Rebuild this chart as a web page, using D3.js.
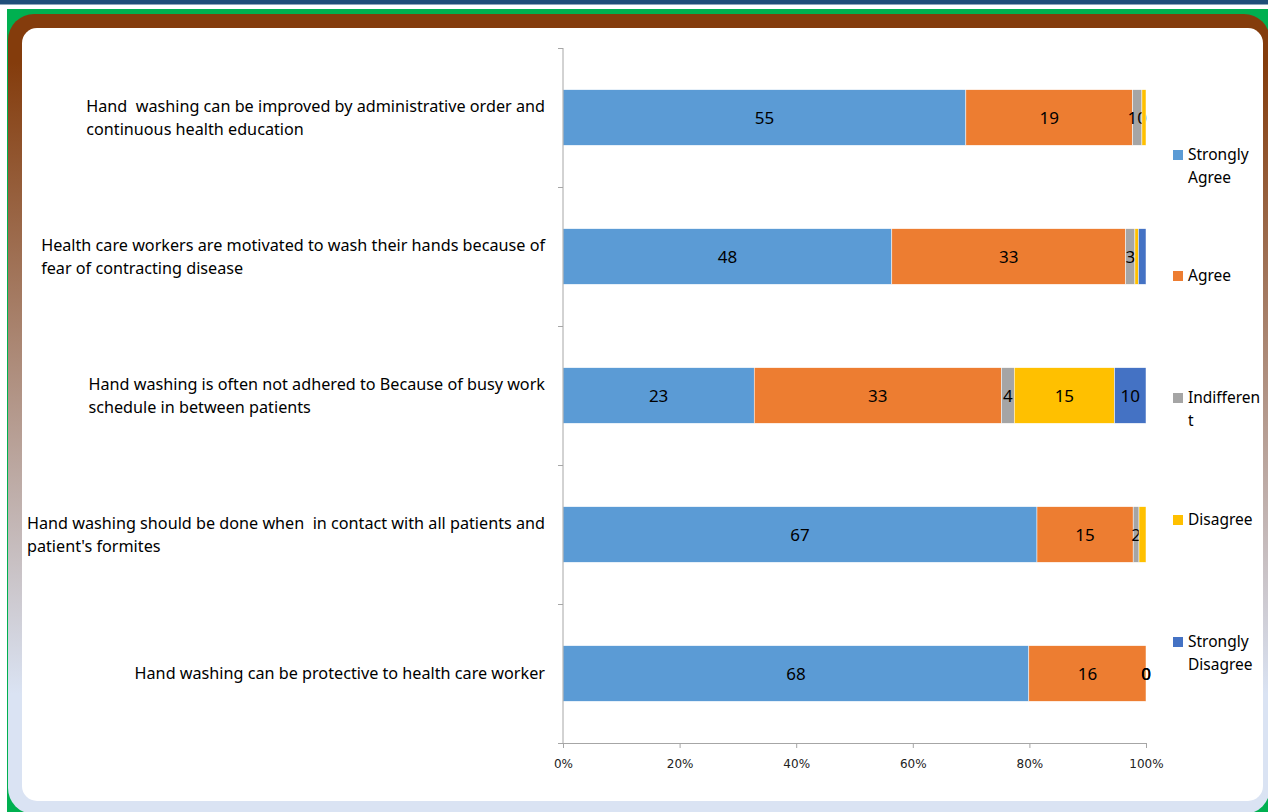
<!DOCTYPE html>
<html>
<head>
<meta charset="utf-8">
<script src="https://cdn.jsdelivr.net/npm/d3@7"></script>
<style>
  body { margin: 0; background: #fff; }
  svg text { white-space: pre; }
</style>
</head>
<body>
<svg id="chart" width="1268" height="812"></svg>
<script>
// categories, top to bottom (each entry = wrapped lines as seen)
var categories = [
  ["Hand  washing can be improved by administrative order and", "continuous health education"],
  ["Health care workers are motivated to wash their hands because of", "fear of contracting disease"],
  ["Hand washing is often not adhered to Because of busy work", "schedule in between patients"],
  ["Hand washing should be done when  in contact with all patients and", "patient's formites"],
  ["Hand washing can be protective to health care worker"]
];

var seriesNames = ["Strongly Agree", "Agree", "Indifferent", "Disagree", "Strongly Disagree"];
var legendLines = [["Strongly", "Agree"], ["Agree"], ["Indifferen", "t"], ["Disagree"], ["Strongly", "Disagree"]];
var seriesColours = ["#5B9BD5", "#ED7D31", "#A5A5A5", "#FFC000", "#4472C4"];

// bar shares (% of row)
var stronglyAgree    = [69.1, 56.4, 32.8, 81.3, 79.9];
var agree            = [28.6, 40.1, 42.4, 16.5, 20.1];
var indifferent      = [1.6, 1.6, 2.2, 1.0, 0];
var disagree         = [0.7, 0.6, 17.2, 1.2, 0];
var stronglyDisagree = [0, 1.3, 5.4, 0, 0];

// data labels as printed on the chart (null = not shown)
var labelsSA  = ["55", "48", "23", "67", "68"];
var labelsA   = ["19", "33", "33", "15", "16"];
var labelsI   = ["10", "3", "4", "2", "0"];
var labelsD   = [null, null, "15", null, "0"];
var labelsSD  = [null, null, "10", null, "0"];

var tickValues = [0, 0.2, 0.4, 0.6, 0.8, 1];

var svg = d3.select("#chart");

// ---- slide frame ----
var defs = svg.append("defs");
var grad = defs.append("linearGradient")
  .attr("id", "frameGrad")
  .attr("x1", 0).attr("y1", 0).attr("x2", 0).attr("y2", 1);
grad.append("stop").attr("offset", "0").attr("stop-color", "#843C0C");
grad.append("stop").attr("offset", "0.06").attr("stop-color", "#843C0C");
grad.append("stop").attr("offset", "0.85").attr("stop-color", "#DAE3F3");
grad.append("stop").attr("offset", "1").attr("stop-color", "#DAE3F3");

svg.append("rect").attr("x", 0).attr("y", 0).attr("width", 1268).attr("height", 4.5).attr("fill", "#1F4E79");
svg.append("rect").attr("x", 7).attr("y", 9).attr("width", 1261).attr("height", 803).attr("fill", "#00B050");
svg.append("rect").attr("x", 8).attr("y", 14).attr("width", 1262).attr("height", 800)
  .attr("rx", 26).attr("fill", "url(#frameGrad)");
svg.append("rect").attr("x", 22).attr("y", 28).attr("width", 1241).attr("height", 773)
  .attr("rx", 15).attr("fill", "#fff");

// ---- chart ----
var plot = { left: 563, right: 1146, top: 48, bottom: 743 };

var rows = categories.map(function (c, i) {
  return {
    idx: i,
    "Strongly Agree": stronglyAgree[i],
    "Agree": agree[i],
    "Indifferent": indifferent[i],
    "Disagree": disagree[i],
    "Strongly Disagree": stronglyDisagree[i]
  };
});
var labelSets = [labelsSA, labelsA, labelsI, labelsD, labelsSD];

var stacked = d3.stack().keys(seriesNames).offset(d3.stackOffsetExpand)(rows);

var x = d3.scaleLinear().domain([0, 1]).range([plot.left, plot.right]);
var y = d3.scaleBand().domain(d3.range(categories.length))
  .range([plot.top, plot.bottom]).paddingInner(0.6).paddingOuter(0.3);
var yEdges = d3.scaleLinear().domain([0, categories.length]).range([plot.top, plot.bottom]);

var layers = svg.append("g").selectAll("g")
  .data(stacked)
  .enter().append("g")
  .attr("fill", function (d, i) { return seriesColours[i]; });

layers.selectAll("rect")
  .data(function (d) { return d; })
  .enter().append("rect")
  .attr("x", function (d) { return x(d[0]); })
  .attr("y", function (d) { return y(d.data.idx); })
  .attr("width", function (d) { return Math.max(0, x(d[1]) - x(d[0])); })
  .attr("height", y.bandwidth())
  .attr("stroke", "#fff")
  .attr("stroke-width", 0.5);

// data labels
layers.each(function (layer, si) {
  d3.select(this).selectAll("text")
    .data(layer.filter(function (d) { return labelSets[si][d.data.idx] != null; }))
    .enter().append("text")
    .attr("x", function (d) { return (x(d[0]) + x(d[1])) / 2; })
    .attr("y", function (d) { return y(d.data.idx) + y.bandwidth() / 2; })
    .attr("dy", "0.38em")
    .attr("text-anchor", "middle")
    .attr("fill", "#000")
    .style("font-family", "'Noto Sans', sans-serif")
    .style("font-size", "17px")
    .text(function (d) { return labelSets[si][d.data.idx]; });
});

// axes
var axisColour = "#A6A6A6";
var xAxis = svg.append("g")
  .attr("transform", "translate(0," + plot.bottom + ")")
  .call(d3.axisBottom(x).tickValues(tickValues).tickFormat(d3.format(".0%")).tickSizeInner(5).tickSizeOuter(0));
xAxis.select(".domain").attr("stroke", axisColour);
xAxis.selectAll(".tick line").attr("stroke", axisColour);
xAxis.selectAll(".tick text")
  .attr("y", 16)
  .attr("fill", "#222")
  .style("font-family", "'DejaVu Sans', sans-serif")
  .style("font-size", "12px");

var yAxis = svg.append("g").attr("transform", "translate(" + plot.left + ",0)");
yAxis.append("line")
  .attr("x1", 0).attr("x2", 0).attr("y1", plot.top).attr("y2", plot.bottom)
  .attr("stroke", axisColour);
yAxis.selectAll(".edge")
  .data(d3.range(categories.length + 1))
  .enter().append("line")
  .attr("class", "edge")
  .attr("x1", -5).attr("x2", 0)
  .attr("y1", function (d) { return Math.round(yEdges(d)) + 0.5; })
  .attr("y2", function (d) { return Math.round(yEdges(d)) + 0.5; })
  .attr("stroke", axisColour);

// category labels: block right-aligned at the axis, lines left-aligned inside it
var lineGap = 23;
var labelRight = 545;
svg.append("g").selectAll("text")
  .data(categories)
  .enter().append("text")
  .attr("fill", "#000")
  .style("font-family", "'Noto Sans', sans-serif")
  .style("font-size", "16.2px")
  .each(function (lines, i) {
    var cy = y(i) + y.bandwidth() / 2;
    var start = cy - (lines.length - 1) * lineGap / 2;
    var spans = d3.select(this).selectAll("tspan")
      .data(lines)
      .enter().append("tspan")
      .attr("y", function (d, j) { return start + j * lineGap; })
      .attr("dy", "0.35em")
      .text(function (d) { return d; });
    var widest = d3.max(spans.nodes(), function (n) { return n.getComputedTextLength(); });
    spans.attr("x", labelRight - widest);
  });

// legend
var legendY = [155, 276, 398, 520, 642];
var legend = svg.append("g").selectAll("g")
  .data(seriesNames)
  .enter().append("g")
  .attr("transform", function (d, i) { return "translate(1173," + legendY[i] + ")"; });
legend.append("rect")
  .attr("x", 0).attr("y", -5).attr("width", 10).attr("height", 10)
  .attr("fill", function (d, i) { return seriesColours[i]; });
legend.append("text")
  .attr("fill", "#000")
  .style("font-family", "'Noto Sans', sans-serif")
  .style("font-size", "15.5px")
  .each(function (d, i) {
    d3.select(this).selectAll("tspan")
      .data(legendLines[i])
      .enter().append("tspan")
      .attr("x", 15)
      .attr("y", function (t, j) { return j * 23; })
      .attr("dy", "0.35em")
      .text(function (t) { return t; });
  });
</script>
</body>
</html>
